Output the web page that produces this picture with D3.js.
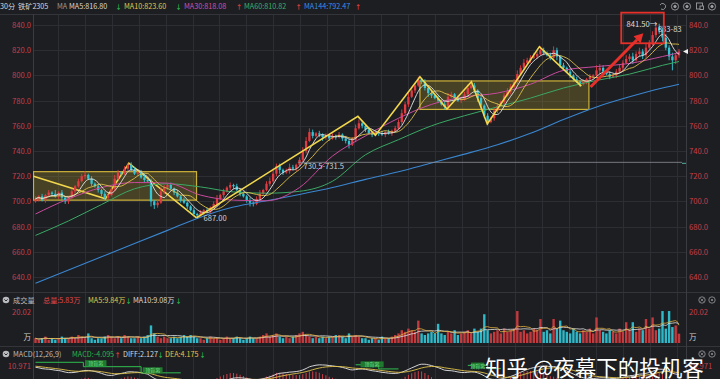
<!DOCTYPE html>
<html><head><meta charset="utf-8">
<script src="https://cdn.jsdelivr.net/npm/d3@7"></script>
<style>
html,body{margin:0;padding:0;background:#1d1e22;overflow:hidden}
svg{display:block}
text{font-family:"Noto Sans CJK SC","Noto Sans",sans-serif}
</style></head><body>
<svg id="c" width="720" height="379"></svg>
<script>
// ---------------- DATA ----------------
const firstOpen = 700;
const closes = [
702,704,701,705,707,706,704,707,703,700,
703,708,712,716,720,721,718,714,712,709,
706,703,705,710,718,723,722,726,729,725,
722,723,719,717,716,700,697,699,708,711,
713,710,707,704,701,699,696,693,690,689,
691,693,692,695,698,702,705,708,711,713,
712,709,706,704,701,699,698,702,706,709,
714,716,722,728,725,723,724,727,726,729,
733,740,748,755,752,754,753,751,752,750,
752,751,753,750,748,745,749,758,762,760,
757,754,753,755,754,753,755,754,756,758,
763,770,777,783,788,792,797,795,790,786,
784,782,780,777,775,783,785,782,780,781,
785,790,792,788,782,776,768,763,766,772,
776,779,784,787,791,795,801,806,810,812,
814,815,817,820,818,816,814,820,815,808,
806,803,800,797,795,793,795,797,799,800,
804,806,803,801,799,800,803,806,810,813,
815,812,817,819,816,822,826,832,838,836,
830,822,815,812,816,819];
const upWick = [
2,1,2,1,2,1,3,1,2,1, 1,2,1,2,2,3,1,2,1,2, 1,2,1,2,3,2,1,2,1.5,2, 2,1,2,3,1,2,1,2,3,2,
1,2,1,2,1,2,1,1,2,1, 2,1,2,1,2,3,1,2,1,2, 1,2,1,2,1,2,1,2,3,1, 2,3,4,2,2,1,2,3,2,1,
2,3,3,3,2,1,2,1,2,1, 2,1,2,1,2,1,2,3,3,2, 1,2,1,2,1,2,1,2,1,2, 2,3,2,3,2,2,2,1,2,1,
2,1,2,1,2,3,2,1,2,1, 2,3,3,2,1,2,1,2,1,2, 2,1,2,3,2,2,3,2,3,2, 2,3,2,3,2,1,2,3,2,1,
2,1,2,1,2,1,2,1,2,1, 4,3,2,1,2,1,2,3,2,3, 2,3,2,3,2,3,2,3,3.5,3, 2,3,2,3,2,2];
const dnWick = [
1,2,1,2,1,2,1,2,2,2, 2,1,2,1,1,2,1,2,1,2, 2,1.5,2,1,2,1,2,1,2,1, 1,2,1,2,1,4,3,2,1,2,
2,1,2,1,2,1,2,1,1,2, 1,2,1,2,1,2,1,2,1,2, 2,1,2,1,2,3,2,1,2,1, 1,2,1,2,3,2,1,2,1,2,
1,2,2,1,2,1,2,3,2,2, 1,2,1,2,2,3,1,2,1,2, 2,1,2,1,2,1,2,1,2,1, 1,2,1,2,1,2,1,2,2,3,
2,1,2,1,2,2,1,2,1,2, 1,2,1,2,3,2,2,2,1,2, 2,1,2,1,2,1,2,1,2,1, 2,1,2,1,2,1,2,2,3,2,
2,1,2,2,1,2,1,2,1,2, 2,3,2,1,2,1,2,1,2,1, 2,3,1,2,3,2,1,2,2,3, 3,2,3,8,3,2];
const volumes = [
3,2,3,4,2,3,2,3,4,3, 3,4,3,5,4,3,6,3,2,3, 3,4,5,4,3,4,3,5,4,3, 3,4,3,4,5,11,6,4,3,4,
3,3,4,3,4,5,4,5,4,3, 3,2,3,4,3,3,2,3,4,3, 3,4,3,2,3,4,3,3,4,5, 6,4,5,6,4,3,4,3,4,5,
6,7,5,4,3,4,3,4,3,4, 4,5,5,4,3,6,4,5,4,3, 3,2,3,3,2,4,3,3,4,5, 6,8,7,9,8,7,14,6,5,6,
7,6,12,6,5,7,6,8,5,6, 7,8,6,9,7,9,18,8,6,7, 8,6,9,7,8,9,20,7,8,6, 7,9,8,15,7,8,6,15,9,14,
8,7,6,9,7,6,8,7,9,6, 16,8,7,6,8,7,6,9,7,13, 8,13,7,9,8,15,9,16,8,9, 20,9,20,10,11,5.83];
// long moving averages at every 10th bar
const maIdx    = [0,10,20,30,40,50,60,70,80,90,100,110,120,130,140,150,160,170,180,190,195];
const ma30Val  = [690,702,711,715,714.5,705,701,700.5,711,736,752,766,777,783,786,793,804,807,809.5,815,818];
const ma60Val  = [673,684.5,697.5,710,714,711.5,707.5,706.5,708,716,737,749,760,768,775,782,790,796,801,808,811];
const ma144Val = [635,645.5,656,666.5,677,687.5,695.5,700.5,705.5,711,717.5,723.5,730.5,737.5,745,754,765,775,783,790,793];
const priceTicks = [640,660,680,700,720,740,760,780,800,820,840];
const macdSeed = {ema12:700, ema26:689.5, dea:11};
// annotations in (bar index, price)
const box1 = {i0:-0.6, i1:48.8, lo:701, hi:723.6};
const box2 = {i0:116.5, i1:167.7, lo:773, hi:795.6};
const zigA = [[-0.6,720],[21.2,702],[28.3,730.3],[48.8,687]];
const zigB = [[48.8,687],[97.7,767.5],[103,752.5],[116.5,799],[124.7,773.3],[132.1,795],[136.9,761.4],[152.7,822.8],[165.4,791.5]];
const redArrow = [[168.2,790.8],[184.2,833.4]];
const redRect = {i0:177.5, i1:190.4, lo:825.5, hi:849.8};
const level = {price:731, from:79.5};
// header texts: [text, colour, x]; arrows: [glyph, colour, centre x]
const headerItems = [["30分","#d8d8d8",0],["铁矿2305","#d8d8d8",18],["MA","#9a9a9a",57],["MA5:816.80","#d8d8d8",69],["MA10:823.60","#e2c64c",124],["MA30:818.08","#d64fa6",184],["MA60:810.82","#3cb06a",244],["MA144:792.47","#3b8fe0",304]];
const headerArrows = [["↓","#27b84a",118.5],["↓","#27b84a",178.5],["↑","#e8403a",239],["↑","#e8403a",298.5],["↑","#e8403a",358]];
const volItems = [["成交量","#bcbcbc",13],["总量:5.83万","#e04848",43],["MA5:9.84万","#e2c64c",88],["MA10:9.08万","#d8d8d8",133]];
const volArrows = [["↓","#27b84a",128.5],["↓","#27b84a",178.5]];
const macdItems = [["MACD(12,26,9)","#bcbcbc",13],["MACD:-4.095","#27b84a",72],["DIFF:2.127","#d8d8d8",123],["DEA:4.175","#e2c64c",165]];
const macdArrows = [["↑","#e8403a",117.5],["↓","#27b84a",160.5],["↓","#27b84a",202.5]];

// ---------------- LAYOUT ----------------
const N = closes.length;
const L = 33, R = 686, T = 14, PB = 292, VB = 346;
const RED = "#e23b41", CYAN = "#33c6d6";
const svg = d3.select("#c");
svg.append("rect").attr("width",720).attr("height",379).attr("fill","#1d1e22");
const defs = svg.append("defs");
defs.append("clipPath").attr("id","cp").append("rect").attr("x",L).attr("y",T).attr("width",R-L).attr("height",PB-T);
defs.append("clipPath").attr("id","cl").append("rect").attr("x",L).attr("y",T).attr("width",682-L).attr("height",PB-T);
defs.append("clipPath").attr("id","cv").append("rect").attr("x",L).attr("y",PB).attr("width",R-L).attr("height",VB-PB);
defs.append("clipPath").attr("id","cm").append("rect").attr("x",L).attr("y",359).attr("width",R-L).attr("height",30);

const x = d3.scaleLinear().domain([0,N-1]).range([35.5,679]);
const y = d3.scaleLinear().domain([640,840]).range([277,25]);
const yv = d3.scaleLinear().domain([0,20.02]).range([343,311]);
const ym = d3.scaleLinear().domain([0,10.971]).range([379,366]);

// grid
const grid = svg.append("g").attr("stroke","#2c2e33").attr("stroke-width",1);
priceTicks.forEach(t=>grid.append("line").attr("x1",L).attr("x2",R).attr("y1",Math.round(y(t))+0.5).attr("y2",Math.round(y(t))+0.5));
for(let k=0;k<24;k++){const gx=Math.round(58+26.9*k)+0.5;grid.append("line").attr("x1",gx).attr("x2",gx).attr("y1",T).attr("y2",379);}
[T,PB,VB].forEach(v=>grid.append("line").attr("x1",0).attr("x2",720).attr("y1",v+0.5).attr("y2",v+0.5).attr("stroke","#33353a"));
[L,R].forEach(v=>grid.append("line").attr("x1",v+0.5).attr("x2",v+0.5).attr("y1",T).attr("y2",379).attr("stroke","#3a3c42"));

// axes
function styleAxis(g){g.select(".domain").remove();g.selectAll("text").attr("fill","#c43e4a").attr("font-size",7.6);}
svg.append("g").attr("transform",`translate(${L},0)`).call(d3.axisLeft(y).tickValues(priceTicks).tickFormat(d=>d.toFixed(1)).tickSize(0).tickPadding(2)).call(styleAxis);
svg.append("g").attr("transform",`translate(${R},0)`).call(d3.axisRight(y).tickValues(priceTicks).tickFormat(d=>d.toFixed(1)).tickSize(0).tickPadding(3)).call(styleAxis);

// boxes
const ann = svg.append("g").attr("clip-path","url(#cp)");
[box1,box2].forEach(b=>ann.append("rect").attr("x",x(b.i0)).attr("y",y(b.hi)).attr("width",x(b.i1)-x(b.i0)).attr("height",y(b.lo)-y(b.hi))
  .attr("fill","rgba(170,150,50,0.30)").attr("stroke","#cdb23a").attr("stroke-width",1.2));

// candles
const opens = closes.map((c,i)=> i===0 ? firstOpen : closes[i-1]);
const highs = closes.map((c,i)=> Math.max(c,opens[i]) + upWick[i]);
const lows  = closes.map((c,i)=> Math.min(c,opens[i]) - dnWick[i]);
const cg = svg.append("g").attr("clip-path","url(#cp)");
closes.forEach((c,i)=>{
  const up = c>=opens[i], col = up?RED:CYAN;
  cg.append("line").attr("x1",x(i)).attr("x2",x(i)).attr("y1",y(highs[i])).attr("y2",y(lows[i])).attr("stroke",col).attr("stroke-width",0.9);
  const top=y(Math.max(c,opens[i])), bot=y(Math.min(c,opens[i]));
  cg.append("rect").attr("x",x(i)-1.15).attr("width",2.3).attr("y",top).attr("height",Math.max(0.8,bot-top)).attr("fill",col);
});

// moving averages
function sma(arr,n){return arr.map((v,i)=>{const s=arr.slice(Math.max(0,i-n+1),i+1);return d3.mean(s);});}
const ma5 = sma(closes,5), ma10 = sma(closes,10);
const lineI = d3.line().x((d,i)=>x(i)).y(d=>y(d)).curve(d3.curveMonotoneX);
const lineS = d3.line().x(d=>x(d[0])).y(d=>y(d[1])).curve(d3.curveMonotoneX);
const mg = svg.append("g").attr("clip-path","url(#cp)").attr("fill","none");
mg.append("path").attr("d",lineS(maIdx.map((k,j)=>[k,ma144Val[j]]))).attr("stroke","#3a86d0").attr("stroke-width",1.1);
mg.append("path").attr("d",lineS(maIdx.map((k,j)=>[k,ma60Val[j]]))).attr("stroke","#3aa864").attr("stroke-width",1);
mg.append("path").attr("d",lineS(maIdx.map((k,j)=>[k,ma30Val[j]]))).attr("stroke","#c84a9c").attr("stroke-width",1);
mg.append("path").attr("d",lineI(ma10)).attr("stroke","#e0c24a").attr("stroke-width",0.9);
mg.append("path").attr("d",lineI(ma5)).attr("stroke","#e6e6e6").attr("stroke-width",0.9);

// zigzag lines
const zl = d3.line().x(d=>x(d[0])).y(d=>y(d[1]));
ann.append("path").attr("d",zl(zigA)).attr("fill","none").attr("stroke","#f2d74c").attr("stroke-width",1.6);
const zg2 = svg.append("g").attr("clip-path","url(#cp)");
zg2.append("path").attr("d",zl(zigB)).attr("fill","none").attr("stroke","#f2d74c").attr("stroke-width",1.6);

// level line + labels
const lab = svg.append("g").attr("clip-path","url(#cl)");
lab.append("line").attr("x1",x(level.from)).attr("x2",682).attr("y1",y(level.price)).attr("y2",y(level.price)).attr("stroke","#8c8f95").attr("stroke-width",0.8);
lab.append("text").attr("x",x(81.2)).attr("y",y(725.8)).text("730.5-731.5").attr("fill","#d0d0d0").attr("font-size",7.6);
lab.append("text").attr("x",x(50.9)).attr("y",y(684.8)).text("687.00").attr("fill","#d0d0d0").attr("font-size",7.6);
lab.append("text").attr("x",x(179.1)).attr("y",y(838.2)).text("841.50→").attr("fill","#dcdcdc").attr("font-size",7.6);
lab.append("text").attr("x",x(188.6)).attr("y",y(834.6)).text("833-835").attr("fill","#dcdcdc").attr("font-size",7.6);
// red rect & arrow
svg.append("rect").attr("x",x(redRect.i0)).attr("y",y(redRect.hi)).attr("width",x(redRect.i1)-x(redRect.i0)).attr("height",y(redRect.lo)-y(redRect.hi))
  .attr("fill","none").attr("stroke","#e8302a").attr("stroke-width",1.8);
const ax0=x(redArrow[0][0]), ay0=y(redArrow[0][1]), ax1=x(redArrow[1][0]), ay1=y(redArrow[1][1]);
const ang=Math.atan2(ay1-ay0,ax1-ax0);
const hb=[ax1-9*Math.cos(ang),ay1-9*Math.sin(ang)];
svg.append("line").attr("x1",ax0).attr("y1",ay0).attr("x2",hb[0]).attr("y2",hb[1]).attr("stroke","#e8302a").attr("stroke-width",3);
svg.append("path").attr("d",`M${ax1},${ay1}L${hb[0]+5*Math.sin(ang)},${hb[1]-5*Math.cos(ang)}L${hb[0]-5*Math.sin(ang)},${hb[1]+5*Math.cos(ang)}Z`).attr("fill","#e8302a");
// current price marker
const cp = y(closes[N-1]);
svg.append("path").attr("d",`M${R-3},${cp}l5,-2.5v5z`).attr("fill","#f0f0f0");
svg.append("line").attr("x1",R-4).attr("x2",R).attr("y1",y(level.price)+1).attr("y2",y(level.price)+1).attr("stroke","#4fb0a0");

// header text helpers
function putTexts(items, arrows, yy){
  const g = svg.append("g").attr("font-size",7.2);
  items.forEach(d=>g.append("text").attr("x",d[2]).attr("y",yy).text(d[0]).attr("fill",d[1]));
  arrows.forEach(d=>g.append("text").attr("x",d[2]).attr("y",yy).attr("text-anchor","middle").attr("font-size",6.2)
    .attr("font-family","DejaVu Sans").attr("font-weight","bold").text(d[0]).attr("fill",d[1]));
}
putTexts(headerItems, headerArrows, 9);
// top right icons
[663,675,687,700,712].forEach((ix,j)=>{
  const g=svg.append("g").attr("stroke","#9a9ca0").attr("fill","none").attr("stroke-width",0.9);
  if(j===0){g.append("path").attr("d",`M${ix-3},${5}a3,3 0 1 1 1,4`);}
  else if(j===3){g.append("rect").attr("x",ix-3.5).attr("y",3).attr("width",6).attr("height",6);g.append("rect").attr("x",ix).attr("y",6).attr("width",3.5).attr("height",3.5).attr("fill","#1d1e22");}
  else {g.append("circle").attr("cx",ix).attr("cy",6.5).attr("r",3.6);g.append("circle").attr("cx",ix).attr("cy",6.5).attr("r",1.2).attr("fill","#9a9ca0");}
});

// volume pane
function icon(cx,cy){svg.append("circle").attr("cx",cx).attr("cy",cy).attr("r",3.3).attr("fill","#b8babd");svg.append("path").attr("d",`M${cx-1.6},${cy-0.6}l1.6,1.6l1.6,-1.6`).attr("stroke","#1d1e22").attr("fill","none").attr("stroke-width",0.9);}
icon(6,300); icon(6,354);
putTexts(volItems, volArrows, 303);
putTexts(macdItems, macdArrows, 357);
[[702,300],[712,300],[702,354],[712,354]].forEach((p,j)=>{
  svg.append("circle").attr("cx",p[0]).attr("cy",p[1]).attr("r",3.2).attr("fill","none").attr("stroke","#8a8c90").attr("stroke-width",0.9);
  if(j%2===0) svg.append("path").attr("d",`M${p[0]-1.5},${p[1]-1.5}l3,3M${p[0]+1.5},${p[1]-1.5}l-3,3`).attr("stroke","#8a8c90").attr("stroke-width",0.8);
  else svg.append("circle").attr("cx",p[0]).attr("cy",p[1]).attr("r",1.1).attr("fill","#8a8c90");
});
const va = svg.append("g").attr("font-size",7.6);
va.append("text").attr("x",31).attr("y",315).attr("text-anchor","end").text("20.02").attr("fill","#c43e4a");
va.append("text").attr("x",31).attr("y",340).attr("text-anchor","end").text("万").attr("fill","#cfcfcf");
va.append("text").attr("x",689).attr("y",315).text("20.02").attr("fill","#c43e4a");
va.append("text").attr("x",689).attr("y",340).text("万").attr("fill","#cfcfcf");
const vg = svg.append("g").attr("clip-path","url(#cv)");
volumes.forEach((v,i)=>{
  const up = closes[i]>=opens[i];
  vg.append("rect").attr("x",x(i)-1.2).attr("width",2.4).attr("y",yv(v)).attr("height",yv(0)-yv(v)).attr("fill",up?"#c23a3e":"#2fb8c8");
});
const lv = d3.line().x((d,i)=>x(i)).y(d=>yv(d)).curve(d3.curveMonotoneX);
vg.append("path").attr("d",lv(sma(volumes,10))).attr("fill","none").attr("stroke","#e6e6e6").attr("stroke-width",0.8);
vg.append("path").attr("d",lv(sma(volumes,5))).attr("fill","none").attr("stroke","#e0b040").attr("stroke-width",0.8);

// MACD pane
let e12=macdSeed.ema12,e26=macdSeed.ema26,dea=macdSeed.dea;
const diffs=[],deas=[],hist=[];
closes.forEach(c=>{e12+= (c-e12)*2/13; e26+=(c-e26)*2/27; const df=e12-e26; dea+=(df-dea)*2/10; diffs.push(df);deas.push(dea);hist.push(2*(df-dea));});
svg.append("text").attr("x",31).attr("y",369).attr("text-anchor","end").text("10.971").attr("fill","#c43e4a").attr("font-size",7.6);
svg.append("text").attr("x",689).attr("y",369).text("10.971").attr("fill","#c43e4a").attr("font-size",7.6);
const mgp = svg.append("g").attr("clip-path","url(#cm)");
hist.forEach((h,i)=>{
  mgp.append("rect").attr("x",x(i)-0.5).attr("width",1).attr("y",Math.min(ym(0),ym(h))).attr("height",Math.abs(ym(h)-ym(0))).attr("fill",h>=0?"#d0404a":"#2fae4c");
});
const ml = d3.line().x((d,i)=>x(i)).y(d=>ym(d)).curve(d3.curveMonotoneX);
mgp.append("path").attr("d",ml(diffs)).attr("fill","none").attr("stroke","#e6e6e6").attr("stroke-width",0.9);
mgp.append("path").attr("d",ml(deas)).attr("fill","none").attr("stroke","#e0c24a").attr("stroke-width",0.9);
const stepL = d3.line().x(d=>x(d[0])).y(d=>ym(d[1]));
const steps = [[[0,14.1],[14.5,14.1],[14.5,10.4],[32,10.4],[32,5.2],[44,5.2]],[[97,12],[104,12],[104,8.5],[110,8.5]],[[131,11.5],[137,11.5],[137,8.8],[141,8.8]]];
steps.forEach(s=>mgp.append("path").attr("d",stepL(s)).attr("fill","none").attr("stroke","#2fbf4f").attr("stroke-width",1));
const tags = [[15,21.5,12.5],[32.5,38.5,6.5],[98.5,105.5,11.5],[132,136,10.5]];
tags.forEach(t=>{
  mgp.append("rect").attr("x",x(t[0])).attr("y",ym(t[2])-4).attr("width",x(t[1])-x(t[0])).attr("height",6).attr("fill","#1f7a30");
  mgp.append("text").attr("x",(x(t[0])+x(t[1]))/2).attr("y",ym(t[2])+1).attr("text-anchor","middle").attr("font-size",5).attr("fill","#7fe090").text("顶背离");
});

// watermark
svg.append("text").attr("x",485).attr("y",376).attr("font-size",21.5).attr("fill","#ffffff")
  .attr("stroke","#000").attr("stroke-opacity",0.35).attr("stroke-width",0.6).attr("paint-order","stroke")
  .text("知乎 @夜幕下的投机客");
</script>
</body></html>
